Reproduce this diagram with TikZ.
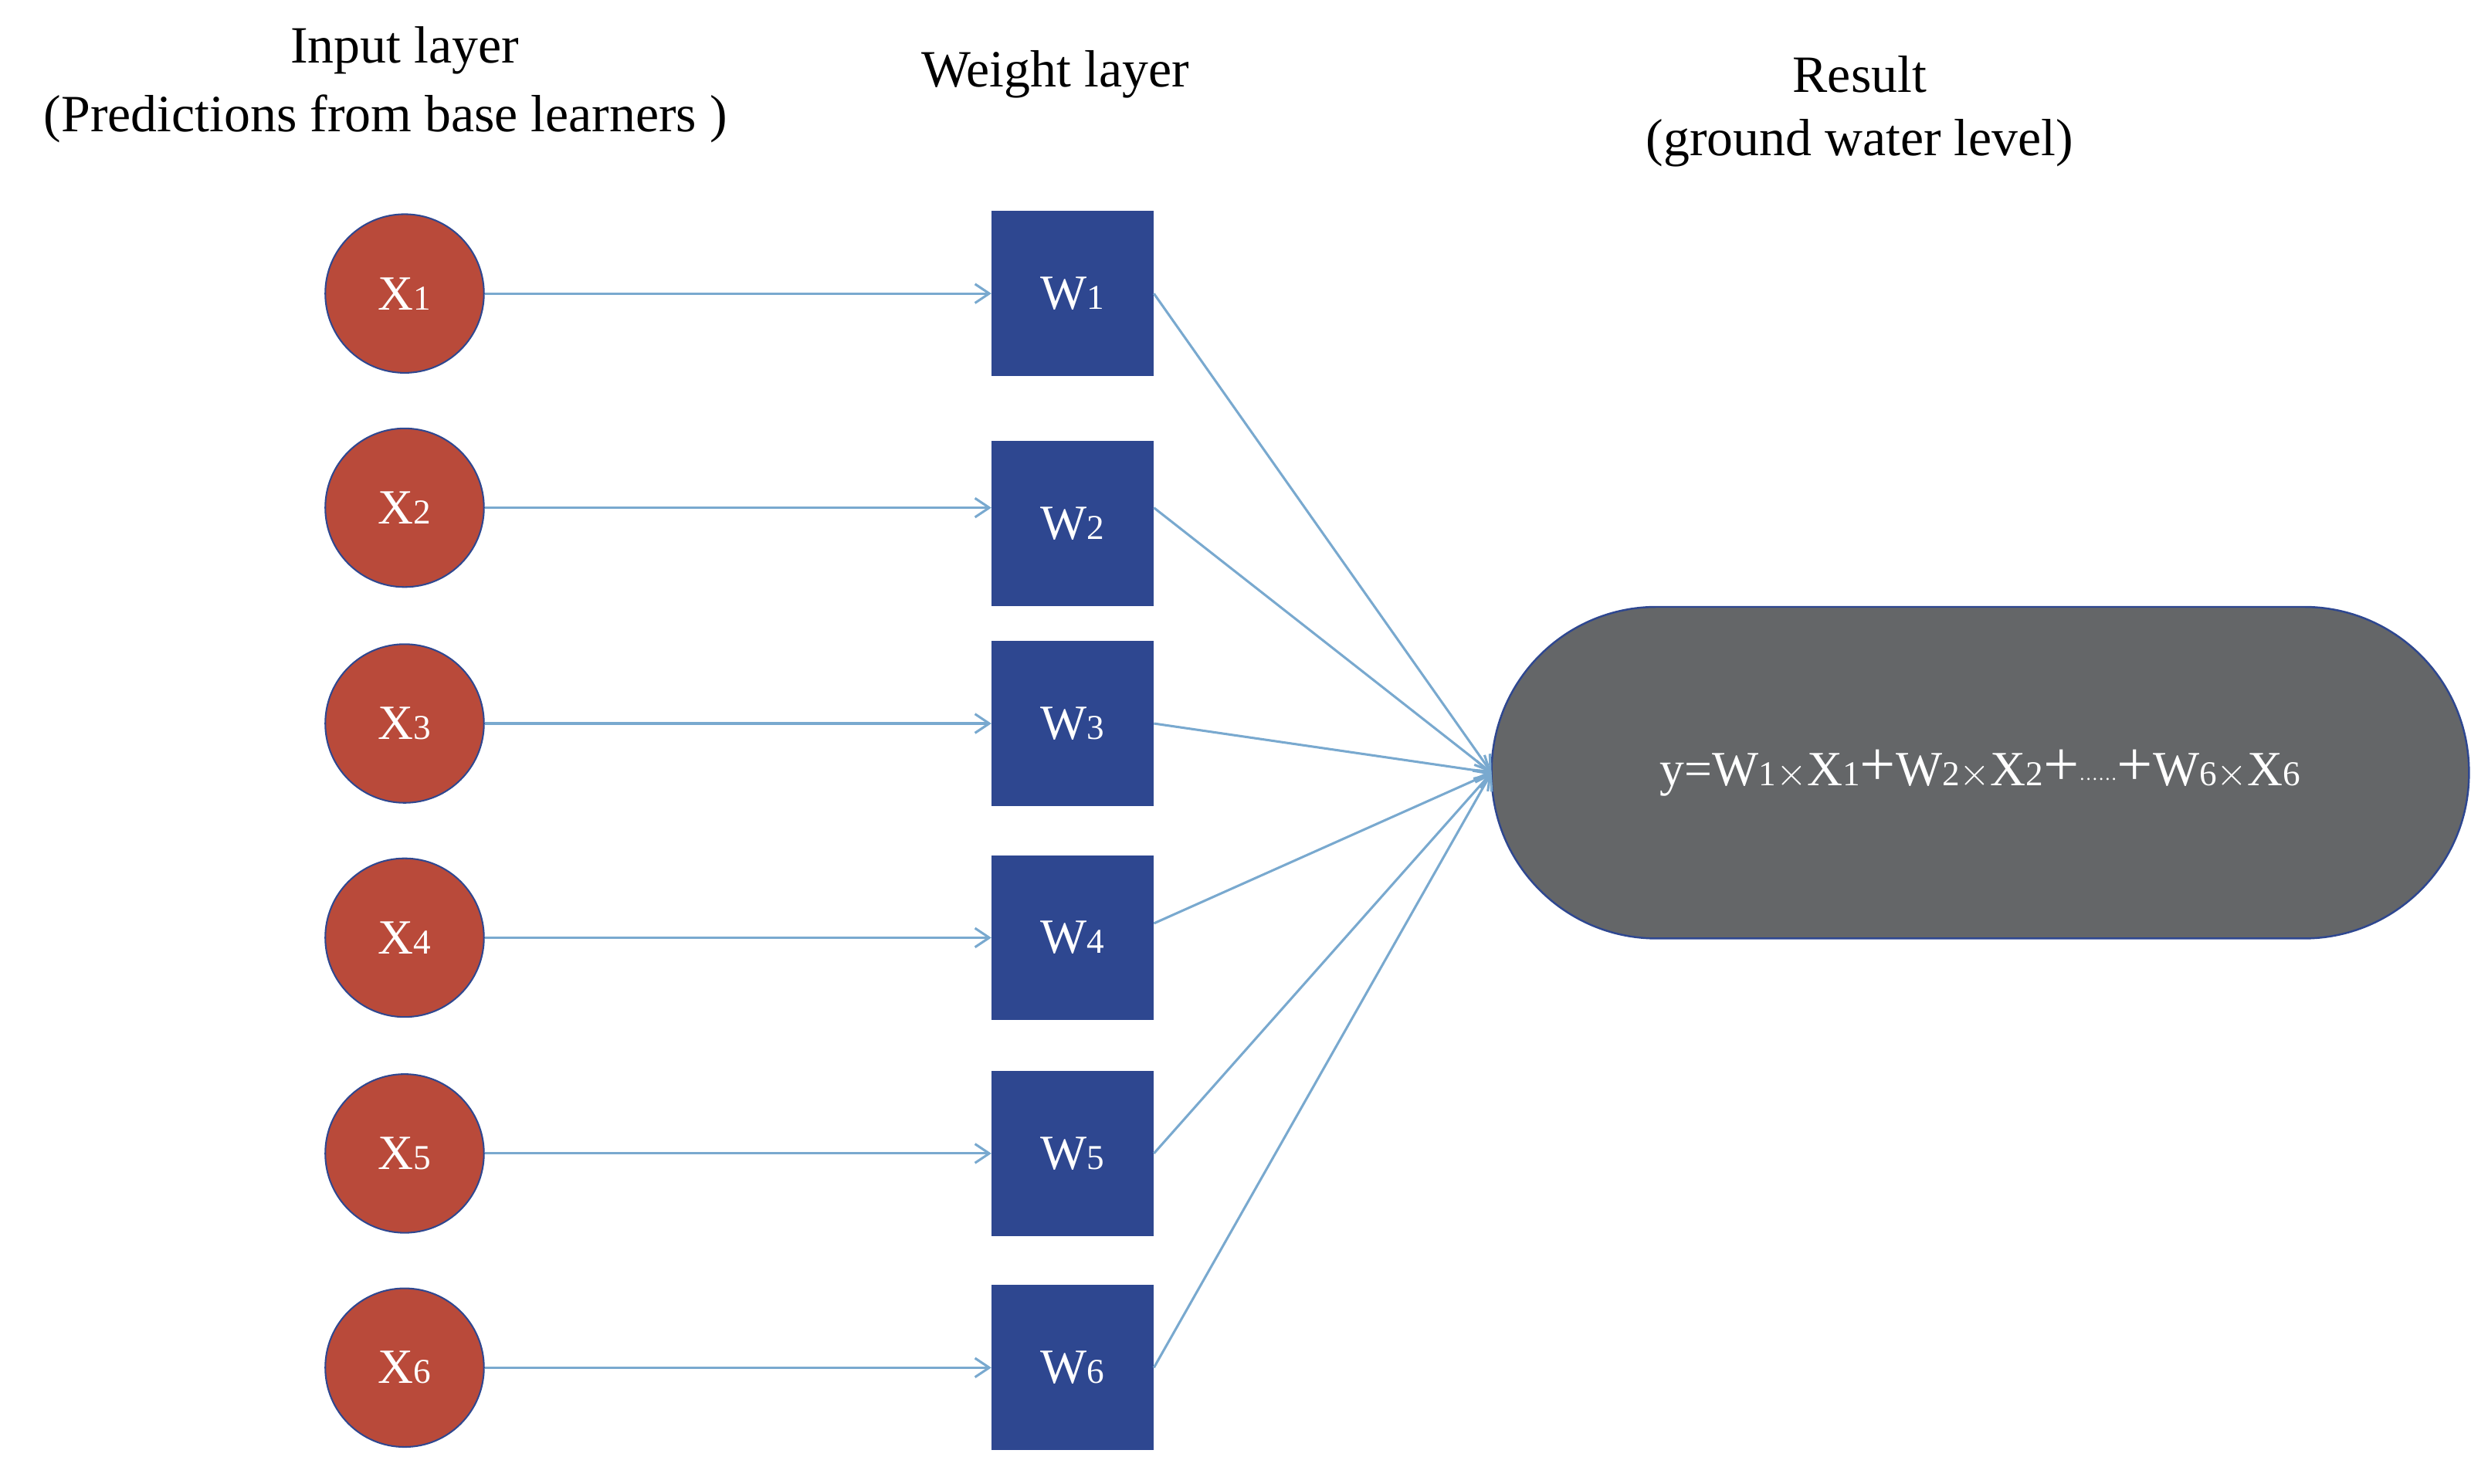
\documentclass[tikz,border=0pt]{standalone}
\usepackage{fontspec}
\setmainfont{Liberation Serif}
\usetikzlibrary{arrows.meta}
\definecolor{cred}{HTML}{B94A3A}
\definecolor{cblue}{HTML}{2E4790}
\definecolor{cgray}{HTML}{646668}
\definecolor{cline}{HTML}{79A9CF}
\newcommand{\sbs}[1]{{\fontsize{22}{22}\selectfont #1}}
\newcommand{\bplus}{{\fontsize{40}{40}\selectfont +}}
\begin{document}
\begin{tikzpicture}[x=1pt,y=-1pt,
 inp/.style={circle,draw=cblue,line width=1pt,fill=cred,minimum size=100pt,inner sep=0pt,text=white,font=\fontsize{31}{31}\selectfont},
 wt/.style={rectangle,fill=cblue,minimum width=102pt,minimum height=104pt,inner sep=0pt,text=white,font=\fontsize{31}{31}\selectfont},
 con/.style={draw=cline,line width=1.5pt,-{Straight Barb[length=9pt,width=12pt]}},
 ttl/.style={font=\fontsize{33}{33}\selectfont,align=center}]
\useasboundingbox (0,0) rectangle (1568,935);
\node[ttl] (t1) at (255,32) {Input layer};
\node[ttl] (t2) at (243,75) {(Predictions from base learners )};
\node[ttl] (t3) at (665,47) {Weight layer};
\node[ttl] (t4) at (1172,47) {Result};
\node[ttl] (t5) at (1172,90) {(ground water level)};
\foreach \i/\y/\w in {1/185/185,2/320/330,3/456/456,4/591/591,5/727/727,6/862/862}{
  \node[inp] (x\i) at (255,\y) {X\sbs{\i}};
  \node[wt] (w\i) at (676,\w) {W\sbs{\i}};
}
\node[rectangle,rounded corners=104pt,draw=cblue,line width=1.2pt,fill=cgray,minimum width=616pt,minimum height=209pt,text=white,font=\fontsize{31}{31}\selectfont] (r) at (1248,487)
 {y=W\sbs{1}$\times$X\sbs{1}\bplus W\sbs{2}$\times$X\sbs{2}\bplus{\fontsize{12}{12}\selectfont\textperiodcentered\textperiodcentered\textperiodcentered\textperiodcentered\textperiodcentered\textperiodcentered}\bplus W\sbs{6}$\times$X\sbs{6}};
\coordinate (rin) at (940,487);
\foreach \i/\y in {1/185,2/320,3/456,4/591,5/727,6/862}{
  \draw[con] (x\i.east) -- (w\i.west |- 0,\y);
}
\foreach \i/\y in {1/185,2/320,3/456,4/582,5/727,6/862}{
  \draw[con] (w\i.east |- 0,\y) -- (rin);
}
\end{tikzpicture}
\end{document}
